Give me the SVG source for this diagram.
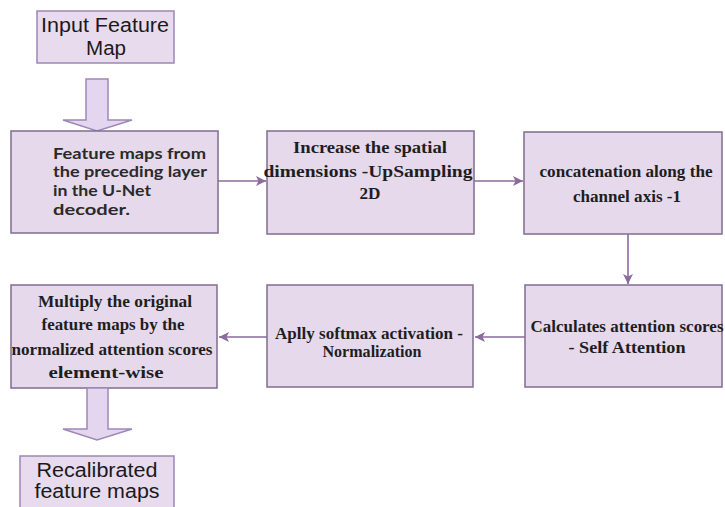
<svg xmlns="http://www.w3.org/2000/svg" width="725" height="507" viewBox="0 0 725 507">
<defs>
<style>
.box{fill:#e6d9eb;stroke:#7f6c8f;stroke-width:1.5}
.term{fill:#e8dbee;stroke:#9c86b6;stroke-width:1.5}
.blk{fill:#e5d6f0;stroke:#9d88b8;stroke-width:1.5;stroke-linejoin:miter}
.con{stroke:#8a6aa0;stroke-width:1.6;fill:none}
.serif{font-family:"Liberation Serif","Times New Roman",serif;font-weight:bold;font-size:16px;fill:#1e1e1e}
.sans{font-family:Lato,"Liberation Sans",sans-serif;font-weight:bold;font-size:15px;fill:#2a2a2a}
.arial{font-family:"Liberation Sans",Arial,sans-serif;font-size:20px;fill:#1a1a1a}
</style>
<marker id="ah" viewBox="0 0 10 10" refX="10" refY="5" markerWidth="10" markerHeight="10" markerUnits="userSpaceOnUse" orient="auto">
<path d="M0,0 L10,5 L0,10 L2.5,5 Z" fill="#8a6aa0"/>
</marker>
</defs>
<rect width="725" height="507" fill="#ffffff"/>

<g id="input">
<rect class="term" x="37" y="11" width="137" height="52"/>
<text class="arial" x="105" y="32" text-anchor="middle" textLength="128" lengthAdjust="spacingAndGlyphs">Input Feature</text>
<text class="arial" x="106" y="55" text-anchor="middle" textLength="40" lengthAdjust="spacingAndGlyphs">Map</text>
</g>

<g id="block-arrow-1">
<polygon class="blk" points="86,79 108,79 108,120 132,120 97,131 63,120 86,120"/>
</g>

<g id="feature-maps">
<rect class="box" x="11" y="131" width="207" height="102"/>
<text class="sans" x="53" y="159" textLength="153" lengthAdjust="spacingAndGlyphs">Feature maps from</text>
<text class="sans" x="53" y="177" textLength="154" lengthAdjust="spacingAndGlyphs">the preceding layer</text>
<text class="sans" x="53" y="196" textLength="98" lengthAdjust="spacingAndGlyphs">in the U-Net</text>
<text class="sans" x="53" y="215" textLength="77" lengthAdjust="spacingAndGlyphs">decoder.</text>
</g>

<g id="upsampling">
<rect class="box" x="267" y="131" width="207" height="103"/>
<text class="serif" x="370" y="153" text-anchor="middle" textLength="154" lengthAdjust="spacingAndGlyphs">Increase the spatial</text>
<text class="serif" x="368" y="177" text-anchor="middle" textLength="209" lengthAdjust="spacingAndGlyphs">dimensions -UpSampling</text>
<text class="serif" x="370" y="199" text-anchor="middle" textLength="21" lengthAdjust="spacingAndGlyphs">2D</text>
</g>

<g id="concatenation">
<rect class="box" x="524" y="132" width="198" height="102"/>
<text class="serif" x="626" y="177" text-anchor="middle" textLength="173" lengthAdjust="spacingAndGlyphs">concatenation along the</text>
<text class="serif" x="627" y="202" text-anchor="middle" textLength="108" lengthAdjust="spacingAndGlyphs">channel axis -1</text>
</g>

<g id="self-attention">
<rect class="box" x="525" y="285" width="197" height="102"/>
<text class="serif" x="627" y="332" text-anchor="middle" textLength="193" lengthAdjust="spacingAndGlyphs">Calculates attention scores</text>
<text class="serif" x="627" y="353" text-anchor="middle" textLength="117" lengthAdjust="spacingAndGlyphs">- Self Attention</text>
</g>

<g id="softmax">
<rect class="box" x="267" y="285" width="206" height="102"/>
<text class="serif" x="369" y="339" text-anchor="middle" textLength="188" lengthAdjust="spacingAndGlyphs">Aplly softmax activation -</text>
<text class="serif" x="372" y="357" text-anchor="middle" textLength="99" lengthAdjust="spacingAndGlyphs">Normalization</text>
</g>

<g id="multiply">
<rect class="box" x="11" y="285" width="206" height="103"/>
<text class="serif" x="115" y="307" text-anchor="middle" textLength="154" lengthAdjust="spacingAndGlyphs">Multiply the original</text>
<text class="serif" x="113" y="330" text-anchor="middle" textLength="143" lengthAdjust="spacingAndGlyphs">feature maps by the</text>
<text class="serif" x="112" y="355" text-anchor="middle" textLength="201" lengthAdjust="spacingAndGlyphs">normalized attention scores</text>
<text class="serif" x="106" y="378" text-anchor="middle" textLength="115" lengthAdjust="spacingAndGlyphs">element-wise</text>
</g>

<g id="block-arrow-2">
<polygon class="blk" points="87,388 108,388 108,429 132,429 97,440 63,429 87,429"/>
</g>

<g id="recalibrated">
<rect class="term" x="20" y="456" width="154" height="60"/>
<text class="arial" x="97" y="477" text-anchor="middle" textLength="121" lengthAdjust="spacingAndGlyphs">Recalibrated</text>
<text class="arial" x="97" y="498" text-anchor="middle" textLength="125" lengthAdjust="spacingAndGlyphs">feature maps</text>
</g>

<g id="connectors">
<line class="con" x1="218" y1="181" x2="266" y2="181" marker-end="url(#ah)"/>
<line class="con" x1="474" y1="181" x2="523" y2="181" marker-end="url(#ah)"/>
<line class="con" x1="628" y1="234" x2="628" y2="284" marker-end="url(#ah)"/>
<line class="con" x1="525" y1="337" x2="475" y2="337" marker-end="url(#ah)"/>
<line class="con" x1="267" y1="337" x2="219" y2="337" marker-end="url(#ah)"/>
</g>
</svg>
